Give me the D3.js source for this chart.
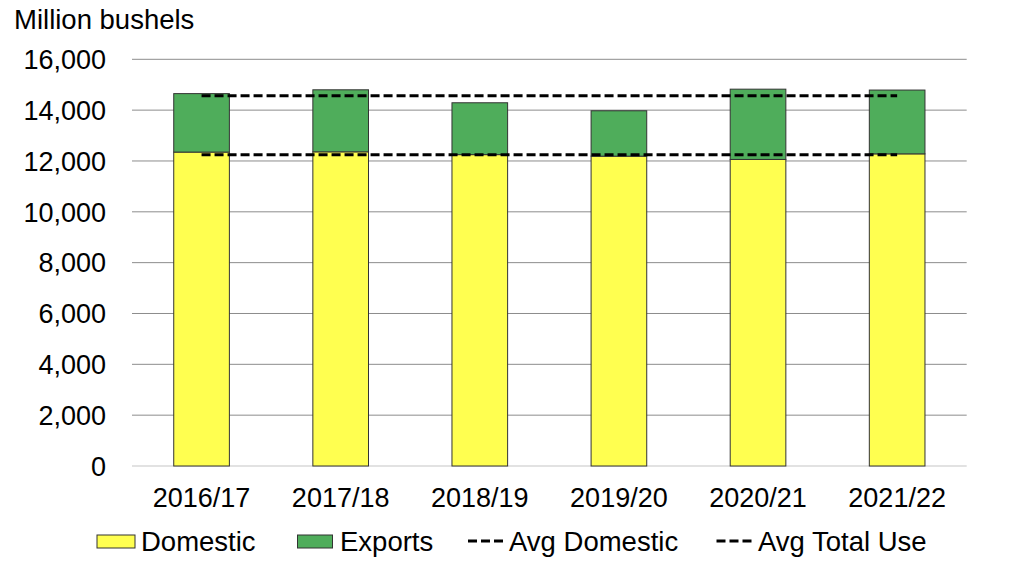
<!DOCTYPE html>
<html>
<head>
<meta charset="utf-8">
<script src="https://cdn.jsdelivr.net/npm/d3@7/dist/d3.min.js"></script>
<style>
  body { margin: 0; background: #fff; }
  svg { display: block; font-family: "Liberation Sans", Arial, sans-serif; }
</style>
</head>
<body>
<svg id="chart" width="1016" height="582"></svg>
<script>
const categories = ["2016/17", "2017/18", "2018/19", "2019/20", "2020/21", "2021/22"];
const domestic = [12350, 12360, 12250, 12190, 12060, 12280];
const exportsVals = [2300, 2440, 2040, 1785, 2765, 2510];
const avgDomestic = 12245;
const avgTotalUse = 14565;
const yTicks = [0, 2000, 4000, 6000, 8000, 10000, 12000, 14000, 16000];
const legendLabels = ["Domestic", "Exports", "Avg Domestic", "Avg Total Use"];

(function () {
const svg = d3.select("#chart");
const pLeft = 132, pRight = 966.7, pTop = 59.3, pBottom = 466;

const x = d3.scaleBand().domain(categories).range([pLeft, pRight]).paddingInner(0.6).paddingOuter(0.3);
const y = d3.scaleLinear().domain([0, 16000]).range([pBottom, pTop]);

const yellow = "#ffff50", green = "#4fad5b";

// gridlines
svg.append("g").selectAll("line").data(yTicks.filter(d => d > 0)).join("line")
  .attr("x1", pLeft).attr("x2", pRight)
  .attr("y1", d => y(d)).attr("y2", d => y(d))
  .attr("stroke", "#8c8c8c").attr("stroke-width", 1);
svg.append("line").attr("x1", pLeft).attr("x2", pRight)
  .attr("y1", y(0)).attr("y2", y(0))
  .attr("stroke", "#d9d9d9").attr("stroke-width", 1.5);

// y tick labels
svg.append("g").selectAll("text").data(yTicks).join("text")
  .attr("x", 106).attr("y", d => y(d)).attr("dy", "0.36em")
  .attr("text-anchor", "end").attr("font-size", 27).attr("fill", "#000")
  .text(d => d3.format(",")(d));

svg.append("text").attr("x", 14).attr("y", 29).attr("font-size", 27.5).text("Million bushels");

// bars
const g = svg.append("g");
categories.forEach((c, i) => {
  g.append("rect")
    .attr("x", x(c)).attr("width", x.bandwidth())
    .attr("y", y(domestic[i])).attr("height", y(0) - y(domestic[i]))
    .attr("fill", yellow).attr("stroke", "#333").attr("stroke-width", 1);
  g.append("rect")
    .attr("x", x(c)).attr("width", x.bandwidth())
    .attr("y", y(domestic[i] + exportsVals[i])).attr("height", y(domestic[i]) - y(domestic[i] + exportsVals[i]))
    .attr("fill", green).attr("stroke", "#333").attr("stroke-width", 1);
});

// avg lines
const x0 = x(categories[0]) + x.bandwidth() / 2;
const x1 = x(categories[categories.length - 1]) + x.bandwidth() / 2;
[avgDomestic, avgTotalUse].forEach(v => {
  svg.append("line").attr("x1", x0).attr("x2", x1)
    .attr("y1", y(v)).attr("y2", y(v))
    .attr("stroke", "#000").attr("stroke-width", 3).attr("stroke-dasharray", "9,4");
});

// x labels
svg.append("g").selectAll("text").data(categories).join("text")
  .attr("x", d => x(d) + x.bandwidth() / 2).attr("y", 507)
  .attr("text-anchor", "middle").attr("font-size", 27).text(d => d);

// legend
const lg = svg.append("g").attr("font-size", 27.5);
lg.append("rect").attr("x", 97).attr("y", 535).attr("width", 38).attr("height", 13)
  .attr("fill", yellow).attr("stroke", "#333").attr("stroke-width", 1);
lg.append("text").attr("x", 141).attr("y", 551).text(legendLabels[0]);
lg.append("rect").attr("x", 297.5).attr("y", 535).attr("width", 35).attr("height", 13)
  .attr("fill", green).attr("stroke", "#333").attr("stroke-width", 1);
lg.append("text").attr("x", 340).attr("y", 551).text(legendLabels[1]);
lg.append("line").attr("x1", 468).attr("x2", 503).attr("y1", 541).attr("y2", 541)
  .attr("stroke", "#000").attr("stroke-width", 3).attr("stroke-dasharray", "9,4");
lg.append("text").attr("x", 509).attr("y", 551).text(legendLabels[2]);
lg.append("line").attr("x1", 716.5).attr("x2", 751.5).attr("y1", 541).attr("y2", 541)
  .attr("stroke", "#000").attr("stroke-width", 3).attr("stroke-dasharray", "9,4");
lg.append("text").attr("x", 758).attr("y", 551).text(legendLabels[3]);
})();
</script>
</body>
</html>
